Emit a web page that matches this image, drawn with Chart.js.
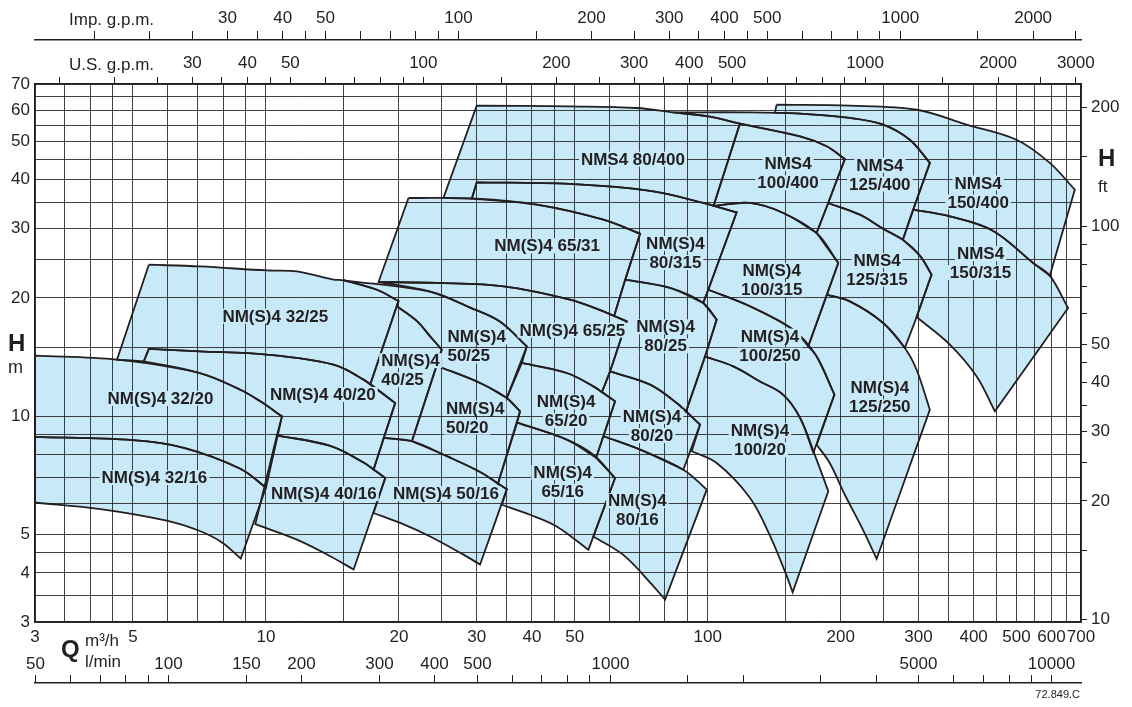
<!DOCTYPE html>
<html>
<head>
<meta charset="utf-8">
<title>NM(S)4 / NMS4 performance range</title>
<script src="https://cdn.jsdelivr.net/npm/chart.js@4.4.1/dist/chart.umd.min.js"></script>
<style>
  html, body { margin: 0; padding: 0; background: #fff; }
  #wrap { width: 1132px; height: 707px; }
</style>
</head>
<body>
<div id="wrap"><canvas id="chart" width="1132" height="707"></canvas></div>
<script>
// ---- axes (Q in m3/h, H in m) ----
const m3hGrid = [3, 3.5, 4, 4.5, 5, 6, 7, 8, 9, 10, 15, 20, 25, 30, 35, 40, 45, 50, 60, 70, 80, 90, 100, 150, 200, 250, 300, 350, 400, 450, 500, 550, 600, 650, 700];
const m3hLabels = [3, 5, 10, 20, 30, 40, 50, 100, 200, 300, 400, 500, 600, 700];
const lminTicks = [50, 60, 70, 80, 90, 100, 150, 200, 300, 400, 500, 600, 700, 800, 900, 1000, 1500, 2000, 3000, 4000, 5000, 6000, 7000, 8000, 9000, 10000];
const lminLabels = [50, 100, 150, 200, 300, 400, 500, 1000, 5000, 10000];
const usTicks = [15, 20, 25, 30, 35, 40, 45, 50, 60, 70, 80, 90, 100, 150, 200, 250, 300, 350, 400, 450, 500, 600, 700, 800, 900, 1000, 1500, 2000, 2500, 3000];
const usLabels = [30, 40, 50, 100, 200, 300, 400, 500, 1000, 2000, 3000];
const impTicks = [15, 20, 25, 30, 35, 40, 45, 50, 60, 70, 80, 90, 100, 150, 200, 250, 300, 350, 400, 450, 500, 600, 700, 800, 900, 1000, 1500, 2000, 2500];
const impLabels = [30, 40, 50, 100, 200, 300, 400, 500, 1000, 2000];
const mGrid = [3, 3.5, 4, 4.5, 5, 6, 7, 8, 9, 10, 15, 20, 25, 30, 35, 40, 45, 50, 55, 60, 65, 70];
const mLabels = [3, 4, 5, 10, 20, 30, 40, 50, 60, 70];
const ftTicks = [10, 15, 20, 25, 30, 35, 40, 45, 50, 60, 70, 80, 90, 100, 150, 200];
const ftLabels = [10, 20, 30, 40, 50, 100, 200];

// ---- pump ranges, outline points [Q m3/h, H m] ----
const nm32_16 = [[3,8.87],[5,8.70],[6.52,8.32],[8.75,7.36],[10,6.59],[8.77,4.35],[7.95,4.78],[7.08,5.11],[5.96,5.43],[4.22,5.81],[3,6.04]];
const nm32_20 = [[3,14.27],[4.6,13.94],[7.08,12.89],[8.75,11.69],[9.71,10.92],[10.87,10.0],[10,6.59],[8.75,7.36],[6.52,8.32],[5,8.70],[3,8.87]];
const nm32_25 = [[5.43,24.3],[7.08,24.06],[10.05,23.5],[11.75,23.37],[14.22,22.27],[15,22.18],[17.83,20.99],[19.95,19.65],[17.22,12.05],[16.63,12.4],[14.22,13.53],[10.05,14.35],[7.08,14.63],[5.43,14.84],[5.29,13.8],[4.6,13.94]];
const nm40_16 = [[10.59,8.95],[13.98,8.41],[16.63,7.63],[18.62,6.97],[15.79,4.08],[13.98,4.41],[11.75,4.86],[9.46,5.32]];
const nm40_20 = [[5.43,14.84],[7.08,14.63],[10.05,14.35],[14.22,13.53],[16.63,12.4],[19.61,10.81],[17.52,7.32],[16.63,7.63],[13.98,8.41],[10.59,8.95],[10.87,10.0],[9.71,10.92],[8.75,11.69],[7.08,12.89],[5.29,13.8]];
const nm40_25 = [[19.79,19.05],[22.0,17.44],[23.53,15.97],[25.0,14.78],[21.4,8.65],[18.48,8.82],[19.61,10.81],[17.22,12.05],[19.95,19.65]];
const nm50_16 = [[18.48,8.82],[21.4,8.65],[25.67,7.92],[30.53,7.22],[35.1,6.53],[30.53,4.2],[28.0,4.45],[23.53,4.95],[20.13,5.36],[17.52,5.68],[18.62,6.97],[17.52,7.32]];
const nm50_20 = [[24.34,13.45],[30.53,12.16],[35.1,11.14],[37.6,10.3],[33.5,6.74],[30.53,7.22],[25.67,7.92],[21.4,8.65]];
const nm50_25 = [[15,22.18],[23.53,20.75],[29.0,18.9],[33.9,17.41],[38.95,15.07],[35.1,11.14],[30.53,12.16],[24.34,13.45],[25.0,14.78],[23.53,15.97],[22.0,17.44],[19.79,19.05],[19.95,19.65],[17.83,20.99]];
const nm65_16 = [[37.03,9.64],[47.97,8.73],[55.1,7.99],[61.7,6.97],[53.7,4.58],[45.5,5.25],[39.6,5.62],[34.2,5.96],[35.1,6.53],[33.5,6.74]];
const nm65_20 = [[37.95,13.67],[47.97,12.89],[55.1,11.92],[61.7,10.92],[55.9,7.85],[47.97,8.73],[37.03,9.64],[37.6,10.3],[35.1,11.14]];
const nm65_25 = [[17.98,21.96],[24.37,21.84],[34.5,21.41],[48.8,19.8],[58.05,18.49],[65.57,17.44],[60.1,13.01],[57.6,11.52],[55.1,11.92],[47.97,12.89],[37.95,13.67],[38.95,15.07],[33.9,17.41],[29.0,18.9],[23.53,20.75]];
const nm65_31 = [[21.02,35.92],[29.9,35.78],[41.03,34.54],[58.05,31.63],[70.3,29.14],[65.06,22.27],[61.4,18.0],[58.05,18.49],[48.8,19.8],[34.5,21.41],[24.37,21.84],[17.98,21.96]];
const nm80_16 = [[58.05,8.9],[70.3,8.23],[88.1,7.32],[99.5,6.51],[80.1,3.42],[74.1,3.78],[64.3,4.45],[55.1,4.95],[61.7,6.97],[55.9,7.85]];
const nm80_20 = [[60.1,13.01],[74.07,12.04],[85.1,10.81],[96.1,9.53],[88.1,7.32],[70.3,8.23],[58.05,8.9],[61.7,10.92],[57.6,11.52]];
const nm80_25 = [[65.06,22.27],[82.14,21.21],[97.7,19.43],[104.8,17.62],[98.6,14.19],[89.3,10.28],[85.1,10.81],[74.07,12.04],[60.1,13.01],[65.57,17.44],[61.4,18.0]];
const nm80_315 = [[30,39.36],[48.8,38.99],[75.3,37.34],[97.7,34.88],[116.3,33.02],[100.3,20.99],[97.7,19.43],[82.14,21.21],[65.06,22.27],[70.3,29.14],[58.05,31.63],[41.03,34.54],[29.25,35.78]];
const nms80_400 = [[30,61.66],[48.8,61.4],[69.1,60.83],[83.44,59.29],[101.2,57.8],[118.3,55.5],[103.1,34.29],[97.7,34.88],[75.3,37.34],[48.8,38.99],[30,39.36],[29.25,35.78],[25.22,35.92]];
const nm100_20 = [[98.6,14.19],[114.3,13.4],[131.3,12.27],[148.1,11.36],[161.8,9.92],[176.4,7.76],[187.5,6.45],[155.7,3.57],[150.4,3.97],[138.4,4.97],[124.6,6.21],[104.8,7.61],[92.0,8.15],[96.1,9.53],[89.3,10.28]];
const nm100_250 = [[100.3,20.99],[124.6,19.05],[156.2,16.61],[176.4,14.21],[193.6,11.36],[173.5,8.08],[161.8,9.92],[148.1,11.36],[131.3,12.27],[114.3,13.4],[98.6,14.19],[104.8,17.62],[97.7,19.43]];
const nm100_315 = [[103.1,34.29],[124.6,34.88],[148.3,32.9],[176.4,29.26],[197.5,24.55],[168.9,15.07],[156.2,16.61],[124.6,19.05],[100.3,20.99],[116.3,33.02]];
const nms100_400 = [[118.3,55.5],[161.8,51.5],[185.9,48.6],[204.4,45.1],[187.4,34.88],[176.4,29.26],[148.3,32.9],[124.6,34.88],[103.1,34.29]];
const nm125_250 = [[186.2,20.39],[209.8,19.6],[249.6,17.28],[279.5,14.93],[297.1,13.14],[318.4,10.4],[241.2,4.34],[223.4,5.21],[204.4,6.32],[188.9,7.61],[176.5,8.47],[193.6,11.36],[176.4,14.21],[168.9,15.07]];
const nms125_315 = [[187.4,34.88],[221.1,32.57],[249.6,30.0],[276.6,28.13],[302.2,25.62],[321.2,22.93],[297.1,17.89],[279.5,14.93],[249.6,17.28],[209.8,19.6],[186.2,20.39],[197.5,24.55],[176.4,29.26]];
const nms125_400 = [[83.44,59.29],[124.6,59.29],[161.8,58.84],[209.8,57.4],[249.6,55.2],[286.8,50.5],[318.4,44.1],[291.9,33.55],[276.6,28.13],[249.6,30.0],[221.1,32.57],[187.4,34.88],[204.4,45.1],[185.9,48.6],[161.8,51.5],[118.3,55.5],[101.2,57.8]];
const nms150_315 = [[291.9,33.55],[353.4,32.25],[442.1,29.66],[545.4,24.55],[594.9,22.79],[654.4,18.86],[446.8,10.3],[406.1,12.64],[353.4,15.22],[297.1,17.89],[321.2,22.93],[302.2,25.62],[276.6,28.13]];
const nms150_400 = [[143.2,62.0],[209.8,61.66],[297.1,60.2],[385.5,55.2],[500.1,50.5],[594.9,44.1],[677.7,37.7],[594.9,22.79],[545.4,24.55],[442.1,29.66],[353.4,32.25],[291.9,33.55],[318.4,44.1],[286.8,50.5],[249.6,55.2],[209.8,57.4],[161.8,58.84],[142.0,59.2]];

const pumpAreas = [
  ['NM(S)4 32/16', nm32_16], ['NM(S)4 32/20', nm32_20], ['NM(S)4 32/25', nm32_25],
  ['NM(S)4 40/16', nm40_16], ['NM(S)4 40/20', nm40_20], ['NM(S)4 40/25', nm40_25],
  ['NM(S)4 50/16', nm50_16], ['NM(S)4 50/20', nm50_20], ['NM(S)4 50/25', nm50_25],
  ['NM(S)4 65/16', nm65_16], ['NM(S)4 65/20', nm65_20], ['NM(S)4 65/25', nm65_25], ['NM(S)4 65/31', nm65_31],
  ['NM(S)4 80/16', nm80_16], ['NM(S)4 80/20', nm80_20], ['NM(S)4 80/25', nm80_25], ['NM(S)4 80/315', nm80_315], ['NMS4 80/400', nms80_400],
  ['NM(S)4 100/20', nm100_20], ['NM(S)4 100/250', nm100_250], ['NM(S)4 100/315', nm100_315], ['NMS4 100/400', nms100_400],
  ['NM(S)4 125/250', nm125_250], ['NMS4 125/315', nms125_315], ['NMS4 125/400', nms125_400],
  ['NMS4 150/315', nms150_315], ['NMS4 150/400', nms150_400]
];

// label text lines, anchor Q, anchor H, alignment
const pumpLabels = [
  [['NM(S)4 32/16'], 5.59, 7.01, 'center'],
  [['NM(S)4 32/20'], 5.77, 11.14, 'center'],
  [['NM(S)4 32/25'], 10.5, 18.03, 'center'],
  [['NM(S)4 40/20'], 13.45, 11.4, 'center'],
  [['NM(S)4 40/16'], 13.52, 6.38, 'center'],
  [['NM(S)4 50/16'], 25.55, 6.38, 'center'],
  [['NM(S)4', '40/25'], 18.24, 13.14, 'left'],
  [['NM(S)4', '50/25'], 25.75, 15.1, 'left'],
  [['NM(S)4', '50/20'], 25.55, 9.95, 'left'],
  [['NM(S)4 65/31'], 43.3, 27.22, 'center'],
  [['NM(S)4 65/25'], 49.4, 16.61, 'center'],
  [['NM(S)4', '65/20'], 47.8, 10.33, 'center'],
  [['NM(S)4', '65/16'], 46.95, 6.83, 'center'],
  [['NM(S)4', '80/315'], 84.5, 26.1, 'center'],
  [['NM(S)4', '80/25'], 80.3, 16.02, 'center'],
  [['NM(S)4', '80/20'], 74.8, 9.48, 'center'],
  [['NM(S)4', '80/16'], 69.3, 5.79, 'center'],
  [['NMS4 80/400'], 67.7, 45.2, 'center'],
  [['NMS4', '100/400'], 152, 41.6, 'center'],
  [['NM(S)4', '100/315'], 139.6, 22.27, 'center'],
  [['NM(S)4', '100/250'], 138.4, 15.18, 'center'],
  [['NM(S)4', '100/20'], 131.3, 8.72, 'center'],
  [['NMS4', '125/400'], 245.3, 41.3, 'center'],
  [['NMS4', '125/315'], 241.8, 23.65, 'center'],
  [['NM(S)4', '125/250'], 245.3, 11.21, 'center'],
  [['NMS4', '150/400'], 409.5, 37.19, 'center'],
  [['NMS4', '150/315'], 414.6, 24.59, 'center']
];

// unit conversions from m3/h and m
const LMIN = 1000 / 60, USGPM = 4.402868, IMPGPM = 3.666154, FT = 3.28084;
const Q_MIN = 3, Q_MAX = 700, H_MIN = 3, H_MAX = 70;

const ink = '#231f20';
const areaBlue = '#c8e9f8';
const gridInk = 'rgba(35,31,32,0.85)';
const family = '"Liberation Sans", Arial, Helvetica, sans-serif';
const tickFont = { family: family, size: 17 };

function fixedTicks(values) {
  return axis => { axis.ticks = values.map(v => ({ value: v })); };
}
function labelIf(list) {
  return v => (list.includes(v) ? String(v) : '');
}

// curves are drawn smooth; a vertex where the outline turns sharply is doubled
// so the spline keeps the corner
function keepCorners(pts) {
  const dir = ([q0, h0], [q1, h1]) =>
    Math.atan2(-(Math.log10(h1) - Math.log10(h0)) * 0.89, Math.log10(q1) - Math.log10(q0));
  const n = pts.length;
  const out = [];
  pts.forEach((p, i) => {
    const a = pts[(i - 1 + n) % n], b = pts[(i + 1) % n];
    let turn = Math.abs(dir(p, b) - dir(a, p));
    if (turn > Math.PI) turn = 2 * Math.PI - turn;
    out.push(p);
    if (turn > 0.5) out.push(p);
  });
  return out;
}

const datasets = [];
pumpAreas.forEach(([name, pts]) => {
  const ring = keepCorners(pts).map(([q, h]) => ({ x: q, y: h }));
  const data = ring.concat([ring[0]]);
  datasets.push({
    label: name, data: data, showLine: true, fill: 'shape', tension: 0.35,
    backgroundColor: areaBlue, borderColor: 'rgba(0,0,0,0)', borderWidth: 1,
    pointRadius: 0, order: 2
  });
  datasets.push({
    label: name + ' outline', data: data, showLine: true, fill: false, tension: 0.35,
    borderColor: ink, borderWidth: 1.8, pointRadius: 0, order: 1
  });
});

const annotations = {
  id: 'annotations',
  afterDraw(chart) {
    const ctx = chart.ctx;
    const xs = chart.scales.x, ys = chart.scales.y, lmin = chart.scales.x2;
    ctx.save();
    ctx.textBaseline = 'alphabetic';
    ctx.textAlign = 'left';
    ctx.font = 'bold 17px ' + family;
    const lineGap = 19;
    pumpLabels.forEach(([lines, q, h, align]) => {
      const px = xs.getPixelForValue(q);
      const py = ys.getPixelForValue(h);
      const top = py - (lines.length - 1) * lineGap / 2;
      lines.forEach((t, i) => {
        const w = ctx.measureText(t).width;
        const left = align === 'left' ? px : px - w / 2;
        const cy = top + i * lineGap;
        ctx.fillStyle = areaBlue;
        ctx.fillRect(left - 2, cy - 7, w + 4, 15);
        ctx.fillStyle = ink;
        ctx.fillText(t, left, cy + 6);
      });
    });

    // l/min scale: ticks rise from the bottom line, labels above them
    ctx.strokeStyle = ink;
    ctx.lineWidth = 1;
    ctx.font = '17px ' + family;
    ctx.fillStyle = ink;
    ctx.textAlign = 'center';
    const base = lmin.top;
    lminTicks.forEach(v => {
      const px = Math.round(lmin.getPixelForValue(v)) + 0.5;
      ctx.beginPath();
      ctx.moveTo(px, base);
      ctx.lineTo(px, base - 8);
      ctx.stroke();
      if (lminLabels.includes(v)) ctx.fillText(String(v), px, base - 14.5);
    });

    ctx.textAlign = 'left';
    ctx.font = '17px ' + family;
    ctx.fillText('Imp. g.p.m.', 69, 25);
    ctx.fillText('U.S. g.p.m.', 69, 70);
    ctx.font = 'bold 24px ' + family;
    ctx.fillText('H', 8, 351);
    ctx.fillText('H', 1098, 166);
    ctx.fillText('Q', 61, 657);
    ctx.font = '18px ' + family;
    ctx.fillText('m', 8, 373);
    ctx.font = '17px ' + family;
    ctx.fillText('ft', 1098, 192);
    ctx.fillText('m\u00b3/h', 85, 646);
    ctx.fillText('l/min', 85, 667);
    ctx.font = '11px ' + family;
    ctx.textAlign = 'right';
    ctx.fillText('72.849.C', 1080, 698);
    ctx.restore();
  }
};

const borderOpts = { display: true, color: ink, width: 1.5, z: 2 };

new Chart(document.getElementById('chart'), {
  type: 'scatter',
  data: { datasets: datasets },
  options: {
    responsive: false,
    animation: false,
    devicePixelRatio: 1,
    events: [],
    layout: { padding: 0 },
    plugins: { legend: { display: false }, tooltip: { enabled: false } },
    scales: {
      x: {
        type: 'logarithmic', position: 'bottom', weight: 0, min: Q_MIN, max: Q_MAX,
        afterBuildTicks: fixedTicks(m3hGrid),
        afterFit: s => { s.height = 61; },
        grid: { color: gridInk, lineWidth: 1, drawTicks: false, z: 1 },
        border: borderOpts,
        ticks: { autoSkip: false, maxRotation: 0, minRotation: 0, padding: 5, font: tickFont, color: ink, callback: labelIf(m3hLabels) }
      },
      x2: {
        type: 'logarithmic', position: 'bottom', weight: 1, min: Q_MIN * LMIN, max: Q_MAX * LMIN,
        afterBuildTicks: fixedTicks(lminTicks),
        afterFit: s => { s.height = 24; },
        grid: { drawOnChartArea: false, drawTicks: false, color: ink, lineWidth: 1 },
        border: borderOpts,
        ticks: { display: false }
      },
      x3: {
        type: 'logarithmic', position: 'top', weight: 0, min: Q_MIN * USGPM, max: Q_MAX * USGPM,
        afterBuildTicks: fixedTicks(usTicks),
        afterFit: s => { s.height = 44; },
        grid: { drawOnChartArea: false, color: ink, lineWidth: 1, tickLength: 7 },
        border: borderOpts,
        ticks: { autoSkip: false, maxRotation: 0, minRotation: 0, padding: 3, font: tickFont, color: ink, callback: labelIf(usLabels) }
      },
      x4: {
        type: 'logarithmic', position: 'top', weight: 1, min: Q_MIN * IMPGPM, max: Q_MAX * IMPGPM,
        afterBuildTicks: fixedTicks(impTicks),
        afterFit: s => { s.height = 40; },
        grid: { drawOnChartArea: false, color: ink, lineWidth: 1, tickLength: 9 },
        border: borderOpts,
        ticks: { autoSkip: false, maxRotation: 0, minRotation: 0, padding: 2, font: tickFont, color: ink, callback: labelIf(impLabels) }
      },
      y: {
        type: 'logarithmic', position: 'left', min: H_MIN, max: H_MAX,
        afterBuildTicks: fixedTicks(mGrid),
        afterFit: s => { s.width = 35; },
        grid: { color: gridInk, lineWidth: 1, drawTicks: false, z: 1 },
        border: borderOpts,
        ticks: { autoSkip: false, padding: 5, font: tickFont, color: ink, callback: labelIf(mLabels) }
      },
      y2: {
        type: 'logarithmic', position: 'right', min: H_MIN * FT, max: H_MAX * FT,
        afterBuildTicks: fixedTicks(ftTicks),
        afterFit: s => { s.width = 51; },
        grid: { drawOnChartArea: false, color: ink, lineWidth: 1, tickLength: 6 },
        border: borderOpts,
        ticks: { autoSkip: false, padding: 4, font: tickFont, color: ink, callback: labelIf(ftLabels) }
      }
    }
  },
  plugins: [annotations]
});
</script>
</body>
</html>
